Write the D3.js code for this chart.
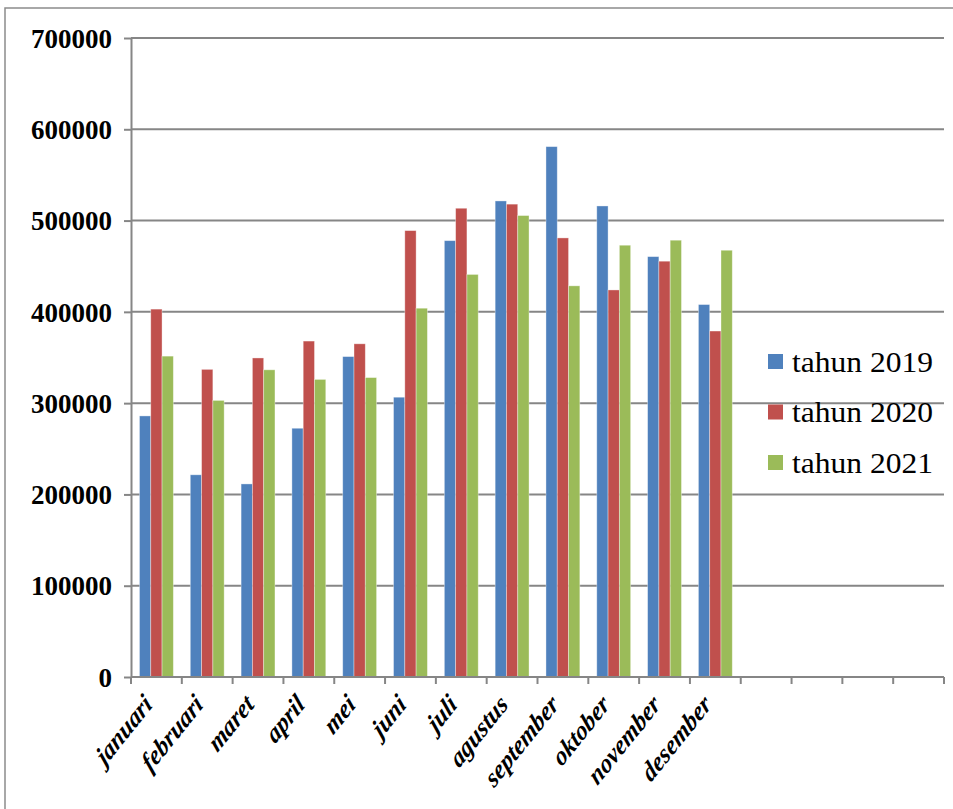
<!DOCTYPE html>
<html>
<head>
<meta charset="utf-8">
<script src="https://cdn.jsdelivr.net/npm/d3@7"></script>
<style>
  html, body { margin: 0; padding: 0; background: #fff; }
  svg { display: block; }
  .serif { font-family: "Liberation Serif", "Times New Roman", serif; }
</style>
</head>
<body>
<svg id="chart" width="953" height="809"></svg>
<script>
// Monthly values per year
const months = ["januari", "februari", "maret", "april", "mei", "juni", "juli",
                "agustus", "september", "oktober", "november", "desember"];
const slots = months.concat(["", "", "", ""]); // empty categories at the end of the axis
const years = ["tahun 2019", "tahun 2020", "tahun 2021"];
const v2019 = [286000, 221500, 211500, 272500, 351000, 306500, 478000, 521500, 581000, 516000, 460500, 408000];
const v2020 = [403000, 337000, 349500, 368000, 365000, 489000, 513500, 518000, 481000, 424000, 455500, 379000];
const v2021 = [351500, 303000, 336500, 326000, 328000, 404000, 441000, 505500, 428500, 473000, 478500, 467500];
const yTicks = [0, 100000, 200000, 300000, 400000, 500000, 600000, 700000];
const colors = ["#4F81BD", "#C0504D", "#9BBB59"];

const series = [v2019, v2020, v2021];
const svg = d3.select("#chart");

// outer chart frame (top and left edges visible)
svg.append("path")
  .attr("d", "M5,809 V8 H953")
  .attr("fill", "none")
  .attr("stroke", "#8c8c8c")
  .attr("stroke-width", 1.5);

const plot = { left: 131, right: 944, top: 38, bottom: 677 };

const x = d3.scaleBand().domain(slots.map((d, i) => i)).range([plot.left, plot.right]).padding(0);
const y = d3.scaleLinear().domain([0, 700000]).range([plot.bottom, plot.top]);

// inner band for the three bars of each month (gap width 150%)
const xb = d3.scaleBand().domain([0, 1, 2])
  .range([x.bandwidth() * 0.75 / 4.5, x.bandwidth() * 3.75 / 4.5]);

// horizontal gridlines
svg.append("g").selectAll("line").data(yTicks.filter(d => d > 0)).join("line")
  .attr("x1", plot.left).attr("x2", plot.right)
  .attr("y1", d => y(d)).attr("y2", d => y(d))
  .attr("stroke", "#868686").attr("stroke-width", 2);

// bars
series.forEach((vals, s) => {
  svg.append("g").selectAll("rect").data(vals).join("rect")
    .attr("x", (d, i) => x(i) + xb(s))
    .attr("width", xb.bandwidth())
    .attr("y", d => y(d))
    .attr("height", d => y(0) - y(d))
    .attr("fill", colors[s])
    .attr("stroke", "rgba(255,255,255,0.45)")
    .attr("stroke-width", 0.8);
});

// y axis
const yAxis = d3.axisLeft(y).tickValues(yTicks).tickFormat(d3.format("d"))
  .tickSize(7).tickSizeOuter(0).tickPadding(12);
const gy = svg.append("g").attr("transform", `translate(${plot.left},0)`).call(yAxis);
gy.select(".domain").attr("stroke", "#868686").attr("stroke-width", 2);
gy.selectAll(".tick line").attr("stroke", "#868686").attr("stroke-width", 2);
gy.attr("font-family", null).attr("font-size", null);
gy.selectAll(".tick text")
  .attr("class", "serif")
  .style("font-weight", "bold")
  .style("font-size", "27px")
  .attr("dy", "0.34em")
  .attr("fill", "#000");

// x axis baseline and category boundary ticks
svg.append("line")
  .attr("x1", plot.left).attr("x2", plot.right)
  .attr("y1", plot.bottom).attr("y2", plot.bottom)
  .attr("stroke", "#868686").attr("stroke-width", 2);
const bounds = slots.map((d, i) => x(i)).concat([plot.right]);
svg.append("g").selectAll("line").data(bounds).join("line")
  .attr("x1", d => d).attr("x2", d => d)
  .attr("y1", plot.bottom).attr("y2", plot.bottom + 7)
  .attr("stroke", "#868686").attr("stroke-width", 2);

// rotated month labels (narrow, tall lettering)
svg.append("g").selectAll("text").data(months).join("text")
  .attr("class", "serif")
  .attr("transform", (d, i) => `translate(${x(i) + x.bandwidth() / 2 - 3},${plot.bottom + 29}) scale(0.8,1) rotate(-45)`)
  .attr("text-anchor", "end")
  .style("font-weight", "bold")
  .style("font-style", "italic")
  .style("font-size", "28px")
  .attr("fill", "#000")
  .text(d => d);

// legend
const lg = svg.append("g").attr("transform", "translate(768,361)");
years.forEach((name, i) => {
  const row = lg.append("g").attr("transform", `translate(0,${i * 50.5})`);
  row.append("rect").attr("x", 0).attr("y", -7).attr("width", 15).attr("height", 15).attr("fill", colors[i]);
  row.append("text")
    .attr("class", "serif")
    .attr("x", 24).attr("y", 0).attr("dy", "0.35em")
    .style("font-size", "30px")
    .attr("textLength", 141)
    .attr("lengthAdjust", "spacingAndGlyphs")
    .attr("fill", "#000")
    .text(name);
});
</script>
</body>
</html>
